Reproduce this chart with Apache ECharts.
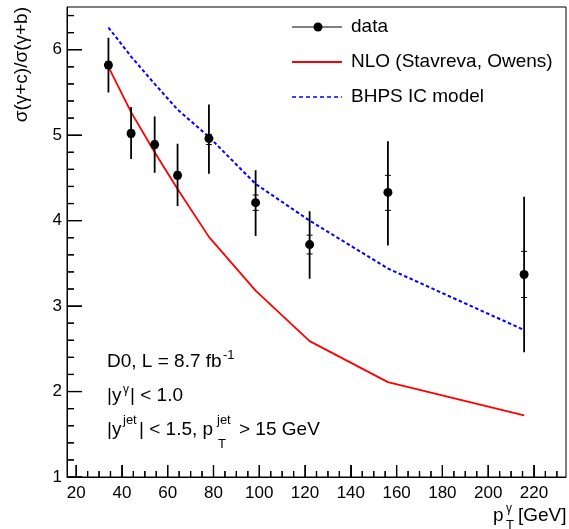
<!DOCTYPE html>
<html>
<head>
<meta charset="utf-8">
<script src="https://cdn.jsdelivr.net/npm/echarts@6/dist/echarts.min.js"></script>
<style>
html,body{margin:0;padding:0;background:#fff;}
#chart{width:569px;height:529px;}
</style>
</head>
<body>
<div id="chart"></div>
<script>
// ---- data ----
const ptGamma   = [34.1, 44.0, 54.3, 64.3, 78.0, 98.4, 122.0, 156.2, 215.7];
const ratio     = [5.82, 5.02, 4.89, 4.53, 4.96, 4.21, 3.72, 4.33, 3.37];
const totLow    = [5.50, 4.72, 4.56, 4.17, 4.55, 3.82, 3.32, 3.71, 2.46];
const totHigh   = [6.14, 5.33, 5.22, 4.90, 5.36, 4.59, 4.11, 4.93, 4.28];
const statLow   = [5.78, 4.98, 4.85, 4.49, 4.89, 4.12, 3.61, 4.12, 3.10];
const statHigh  = [5.86, 5.06, 4.93, 4.57, 5.01, 4.30, 3.83, 4.53, 3.64];
const nloVals   = [5.80, 5.27, 4.80, 4.37, 3.81, 3.18, 2.59, 2.11, 1.72];
const icVals    = [6.26, 5.92, 5.60, 5.30, 4.98, 4.43, 4.00, 3.44, 2.72];
const xMajor    = [20, 40, 60, 80, 100, 120, 140, 160, 180, 200, 220];
const xMinor    = [25,30,35,45,50,55,65,70,75,85,90,95,105,110,115,125,130,135,145,150,155,165,170,175,185,190,195,205,210,215,225,230];
const yMajor    = [1, 2, 3, 4, 5, 6];
const yMinor    = [1.2,1.4,1.6,1.8,2.2,2.4,2.6,2.8,3.2,3.4,3.6,3.8,4.2,4.4,4.6,4.8,5.2,5.4,5.6,5.8,6.2,6.4];
const legendNames = ['data', 'NLO (Stavreva, Owens)', 'BHPS IC model'];

const X_MIN = 16, X_MAX = 234, Y_MIN = 1, Y_MAX = 6.5;
const FF = "'Liberation Sans', Arial, Helvetica, sans-serif";
const chart = echarts.init(document.getElementById('chart'));

const errData = ptGamma.map((x, i) => [x, totLow[i], totHigh[i], statLow[i], statHigh[i]]);
const ptsData = ptGamma.map((x, i) => [x, ratio[i]]);
const nloData = ptGamma.map((x, i) => [x, nloVals[i]]);
const icData  = ptGamma.map((x, i) => [x, icVals[i]]);

// tick table: [value, axis (0 = x, 1 = y), length in px]
const tickRows = []
  .concat(xMajor.map(v => [v, 0, 12]))
  .concat(xMinor.map(v => [v, 0, 6]))
  .concat(yMajor.map(v => [v, 1, 15]))
  .concat(yMinor.map(v => [v, 1, 7]));

function txt(text, x, y, size, align, rotation) {
  const el = {
    type: 'text', x: x, y: y, z: 100,
    style: {text: text, fontSize: size, fontFamily: FF, fill: '#000',
      align: align || 'left', verticalAlign: 'middle'}
  };
  if (rotation) el.rotation = rotation;
  return el;
}

chart.setOption({
  animation: false,
  backgroundColor: '#fff',
  grid: {left: 67, top: 7, right: 3, bottom: 52, show: true, borderColor: '#000', borderWidth: 1},
  xAxis: {
    type: 'value', min: X_MIN, max: X_MAX, splitLine: {show: false},
    axisLine: {show: true, onZero: false, lineStyle: {color: '#000', width: 1}},
    axisTick: {show: true, inside: true, length: 12, customValues: xMajor, lineStyle: {color: '#000', width: 1}},
    axisLabel: {show: true, customValues: xMajor, fontSize: 17, fontFamily: FF, color: '#000', margin: 8}
  },
  yAxis: {
    type: 'value', min: Y_MIN, max: Y_MAX, splitLine: {show: false},
    axisLine: {show: true, onZero: false, lineStyle: {color: '#000', width: 1}},
    axisTick: {show: true, inside: true, length: 15, customValues: yMajor, lineStyle: {color: '#000', width: 1}},
    axisLabel: {show: true, customValues: yMajor, fontSize: 17, fontFamily: FF, color: '#000', margin: 5}
  },
  series: [
    {
      name: legendNames[1], type: 'line', data: nloData, showSymbol: false, symbol: 'none',
      lineStyle: {color: '#ff0000', width: 1.8}, z: 2
    },
    {
      name: legendNames[2], type: 'line', data: icData, showSymbol: false, symbol: 'none',
      lineStyle: {color: '#0000ff', width: 2, type: [3.5, 2.5]}, z: 2
    },
    {
      name: 'errors', type: 'custom', data: errData, z: 3,
      renderItem: function (params, api) {
        const x = api.value(0);
        const lo = api.coord([x, api.value(1)]);
        const hi = api.coord([x, api.value(2)]);
        const sl = api.coord([x, api.value(3)]);
        const sh = api.coord([x, api.value(4)]);
        const w = 3;
        return {
          type: 'group',
          children: [
            {type: 'line', shape: {x1: lo[0], y1: lo[1], x2: hi[0], y2: hi[1]}, style: {stroke: '#000', lineWidth: 1.8}},
            {type: 'line', shape: {x1: sl[0] - w, y1: sl[1], x2: sl[0] + w, y2: sl[1]}, style: {stroke: '#000', lineWidth: 1}},
            {type: 'line', shape: {x1: sh[0] - w, y1: sh[1], x2: sh[0] + w, y2: sh[1]}, style: {stroke: '#000', lineWidth: 1}}
          ]
        };
      }
    },
    {
      name: 'ticks', type: 'custom', data: tickRows, z: 3,
      encode: {x: 0},
      renderItem: function (params, api) {
        const v = api.value(0);
        const isY = api.value(1) === 1;
        const len = api.value(2);
        const p = isY ? api.coord([X_MIN, v]) : api.coord([v, Y_MIN]);
        const shape = isY
          ? {x1: p[0], y1: p[1], x2: p[0] + len, y2: p[1]}
          : {x1: p[0], y1: p[1], x2: p[0], y2: p[1] - len};
        return {
          type: 'group',
          children: [
            {type: 'line', shape: shape, style: {stroke: '#000', lineWidth: 1.2}}
          ]
        };
      }
    },
    {
      name: legendNames[0], type: 'scatter', data: ptsData, symbol: 'circle', symbolSize: 9,
      itemStyle: {color: '#000', opacity: 1}, z: 4
    }
  ]
});

const els = [];
// ticks again through the chart's own scales, as overlay
tickRows.forEach(r => {
  const isY = r[1] === 1;
  const q = isY ? chart.convertToPixel({gridIndex: 0}, [X_MIN, r[0]]) : chart.convertToPixel({gridIndex: 0}, [r[0], Y_MIN]);
  els.push({type: 'line', z: 100,
    shape: isY ? {x1: q[0], y1: q[1], x2: q[0] + r[2], y2: q[1]} : {x1: q[0], y1: q[1], x2: q[0], y2: q[1] - r[2]},
    style: {stroke: '#000', lineWidth: 1.2}});
});

// legend
els.push({type: 'line', z: 100, shape: {x1: 292, y1: 27, x2: 342, y2: 27}, style: {stroke: '#000', lineWidth: 1.2}});
els.push({type: 'circle', z: 100, shape: {cx: 318, cy: 27, r: 4.5}, style: {fill: '#000'}});
els.push(txt(legendNames[0], 351, 27, 19));
els.push({type: 'line', z: 100, shape: {x1: 292, y1: 62, x2: 342, y2: 62}, style: {stroke: '#ff0000', lineWidth: 1.8}});
els.push(txt(legendNames[1], 351, 62, 19));
els.push({type: 'line', z: 100, shape: {x1: 292, y1: 97, x2: 342, y2: 97}, style: {stroke: '#0000ff', lineWidth: 1.4, lineDash: [4, 3]}});
els.push(txt(legendNames[2], 351, 97, 19));
// annotations
els.push(txt('D0, L = 8.7 fb', 107, 362, 19));
els.push(txt('-1', 223, 355, 13));
els.push(txt('|y', 107, 396, 19));
els.push(txt('γ', 123, 390, 12));
els.push(txt('| < 1.0', 130, 396, 19));
els.push(txt('|y', 107, 430, 19));
els.push(txt('jet', 123, 420, 13));
els.push(txt('| < 1.5, p', 139, 430, 19));
els.push(txt('jet', 217, 420, 13));
els.push(txt('T', 218, 444, 13));
els.push(txt('> 15 GeV', 239, 430, 19));
// axis titles
els.push(txt('σ(γ+c)/σ(γ+b)', 22, 7, 19, 'right', Math.PI / 2));
els.push(txt('p', 493, 516, 19));
els.push(txt('γ', 506, 509, 12));
els.push(txt('T', 506, 525, 13));
els.push(txt('[GeV]', 518, 516, 19));

chart.setOption({graphic: els});
</script>
</body>
</html>
